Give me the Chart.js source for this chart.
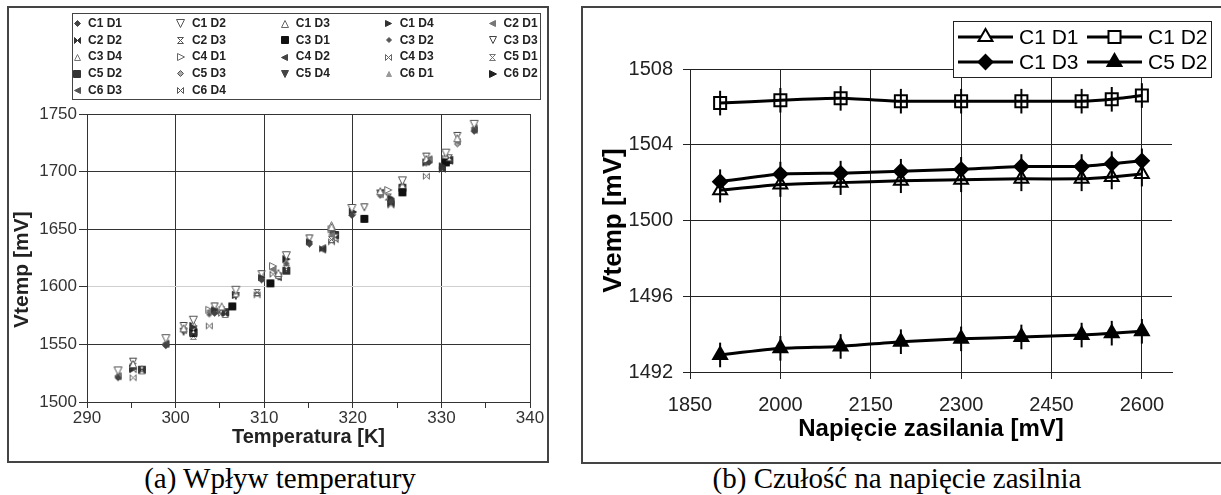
<!DOCTYPE html>
<html>
<head>
<meta charset="utf-8">
<script src="https://cdn.jsdelivr.net/npm/chart.js@4.4.0/dist/chart.umd.min.js"></script>
<style>
  body { margin: 0; background: #fff; width: 1221px; height: 495px; overflow: hidden; position: relative; }
  .panel { position: absolute; box-sizing: border-box; border: 2px solid #444; background: #fff; }
  .panel canvas { display: block; }
  #pa { left: 7px; top: 6px; width: 542px; height: 457px; }
  #pb { left: 581px; top: 6px; width: 642px; height: 458px; }
  .cap { position: absolute; top: 462px; line-height: 32px; font-family: "Liberation Serif", "Times New Roman", serif;
         font-size: 29px; color: #000; text-align: center; white-space: nowrap; }
</style>
</head>
<body>
<div class="panel" id="pa"><canvas id="chartA" width="538" height="453"></canvas></div>
<div class="panel" id="pb"><canvas id="chartB" width="638" height="454"></canvas></div>
<div class="cap" style="left:80px;width:400px">(a) Wpływ temperatury</div>
<div class="cap" style="left:697px;width:400px">(b) Czułość na napięcie zasilnia</div>

<script>
// ---- (a) Vtemp vs temperatura, 22 serie
var seriesA = ['C1 D1', 'C1 D2', 'C1 D3', 'C1 D4', 'C2 D1',
               'C2 D2', 'C2 D3', 'C3 D1', 'C3 D2', 'C3 D3',
               'C3 D4', 'C4 D1', 'C4 D2', 'C4 D3', 'C5 D1',
               'C5 D2', 'C5 D3', 'C5 D4', 'C6 D1', 'C6 D2',
               'C6 D3', 'C6 D4'];

var tempA = [
  [293.5, 298.9, 304.4, 309.7, 315.1, 319.9, 324.3, 328.6, 333.7],
  [293.5, 298.9, 302.0, 306.8, 312.5, 319.9, 325.6, 330.5, 333.7],
  [295.2, 300.9, 305.2, 311.6, 317.6, 323.1, 328.3, 331.8],
  [295.2, 302.0, 304.4, 309.7, 315.1, 320.0, 324.3, 330.1],
  [293.5, 300.9, 303.8, 311.0, 317.6, 323.1, 328.6, 331.8],
  [296.2, 302.0, 305.6, 312.5, 316.6, 324.3, 330.1],
  [295.2, 302.0, 305.2, 309.2, 317.6, 324.0, 330.9],
  [302.0, 306.4, 310.7, 321.3, 325.6, 330.5],
  [298.9, 303.8, 309.2, 312.5, 317.6, 323.1, 328.3, 333.7],
  [295.2, 300.9, 304.4, 309.7, 315.1, 321.3, 328.3, 331.8],
  [296.2, 302.0, 306.8, 311.6, 317.6, 325.6, 330.5],
  [303.8, 311.0, 317.6, 324.0, 330.5],
  [293.5, 298.9, 305.2, 311.6, 316.6, 324.3, 330.1, 333.7],
  [295.2, 303.8, 309.2, 317.6, 324.3, 328.3],
  [296.2, 302.0, 305.6, 312.5, 318.0, 325.6, 330.1],
  [296.2, 302.0, 305.6, 312.5, 318.0, 325.6, 330.9],
  [298.9, 304.4, 309.7, 315.1, 320.0, 324.3, 328.6, 331.8],
  [300.9, 306.8, 311.6, 317.6, 323.1, 330.5],
  [293.5, 300.9, 305.2, 312.5, 317.6, 325.6, 330.5],
  [295.2, 302.0, 306.8, 312.5, 320.0, 328.3],
  [298.9, 304.4, 309.7, 316.6, 323.1, 328.6, 333.7],
  [295.2, 302.0, 305.2, 311.0, 318.0, 324.3, 330.9]
];

var vtempA = [
  [1521, 1549, 1577, 1606, 1637, 1662, 1674, 1708, 1735],
  [1527, 1555, 1571, 1597, 1627, 1668, 1692, 1716, 1741],
  [1533, 1564, 1583, 1612, 1652, 1683, 1711, 1729],
  [1530, 1565, 1580, 1608, 1639, 1665, 1677, 1705],
  [1523, 1562, 1579, 1615, 1645, 1680, 1710, 1726],
  [1528, 1559, 1577, 1614, 1633, 1672, 1702],
  [1531, 1562, 1580, 1595, 1641, 1678, 1712],
  [1560, 1583, 1603, 1659, 1682, 1708],
  [1550, 1576, 1594, 1620, 1649, 1679, 1707, 1737],
  [1535, 1566, 1583, 1611, 1642, 1669, 1713, 1731],
  [1529, 1568, 1594, 1610, 1654, 1688, 1713],
  [1580, 1618, 1650, 1684, 1711],
  [1522, 1551, 1578, 1608, 1632, 1674, 1703, 1736],
  [1521, 1566, 1593, 1639, 1671, 1696],
  [1527, 1557, 1576, 1616, 1643, 1684, 1704],
  [1528, 1561, 1578, 1614, 1645, 1686, 1710],
  [1549, 1578, 1607, 1638, 1663, 1676, 1709, 1724],
  [1561, 1592, 1609, 1647, 1681, 1709],
  [1524, 1563, 1581, 1622, 1652, 1690, 1714],
  [1529, 1566, 1593, 1624, 1665, 1708],
  [1550, 1579, 1607, 1634, 1682, 1711, 1738],
  [1528, 1560, 1577, 1611, 1641, 1673, 1709]
];

var xTicksA = [290, 295, 300, 305, 310, 315, 320, 325, 330, 335, 340];
var yTicksA = [1500, 1550, 1600, 1650, 1700, 1750];

// ---- (b) Vtemp vs napiecie zasilania
var supplyB = [1900, 2000, 2100, 2200, 2300, 2400, 2500, 2550, 2600];
var seriesB = ['C1 D1', 'C1 D2', 'C1 D3', 'C5 D2'];
var vC1D1 = [1501.6, 1501.9, 1502.0, 1502.1, 1502.15, 1502.2, 1502.2, 1502.3, 1502.45];
var vC1D2 = [1506.2, 1506.35, 1506.45, 1506.3, 1506.3, 1506.3, 1506.3, 1506.4, 1506.6];
var vC1D3 = [1502.05, 1502.45, 1502.5, 1502.6, 1502.7, 1502.85, 1502.85, 1503.0, 1503.15];
var vC5D2 = [1492.9, 1493.25, 1493.35, 1493.6, 1493.75, 1493.85, 1493.95, 1494.05, 1494.15];
var errB = 0.65;
var xTicksB = [1850, 2000, 2150, 2300, 2450, 2600];
var yTicksB = [1492, 1496, 1500, 1504, 1508];

var FONT = '"Liberation Sans", Arial, sans-serif';

// markery wykresu (a): [ksztalt, wypelniony, kolor, rozmiar]
var markerSpecs = [
  ['diamond', 1, '#444', 6], ['down', 0, '#555', 8], ['up', 0, '#666', 7], ['right', 1, '#333', 6], ['left', 1, '#777', 6],
  ['bowtie', 1, '#333', 6], ['hourglass', 0, '#555', 6], ['square', 1, '#111', 7], ['diamond', 1, '#555', 5], ['down', 0, '#444', 7],
  ['up', 0, '#777', 6], ['right', 0, '#666', 7], ['left', 1, '#444', 6], ['bowtie', 0, '#666', 6], ['hourglass', 0, '#777', 6],
  ['square', 1, '#333', 7], ['diamond', 0, '#555', 6], ['down', 1, '#444', 7], ['up', 1, '#999', 5], ['right', 1, '#222', 7],
  ['left', 1, '#555', 6], ['bowtie', 0, '#555', 6]
];

function marker(shape, filled, color, s) {
  var c = document.createElement('canvas');
  c.width = c.height = s + 3;
  var g = c.getContext('2d');
  var m = (s + 3) / 2, r = s / 2;
  g.beginPath();
  if (shape == 'diamond') { g.moveTo(m, m - r); g.lineTo(m + r, m); g.lineTo(m, m + r); g.lineTo(m - r, m); }
  else if (shape == 'square') { g.rect(m - r, m - r, 2 * r, 2 * r); }
  else if (shape == 'up') { g.moveTo(m, m - r); g.lineTo(m + r, m + r); g.lineTo(m - r, m + r); }
  else if (shape == 'down') { g.moveTo(m, m + r); g.lineTo(m + r, m - r); g.lineTo(m - r, m - r); }
  else if (shape == 'right') { g.moveTo(m + r, m); g.lineTo(m - r, m - r); g.lineTo(m - r, m + r); }
  else if (shape == 'left') { g.moveTo(m - r, m); g.lineTo(m + r, m - r); g.lineTo(m + r, m + r); }
  else if (shape == 'bowtie') { g.moveTo(m - r, m - r); g.lineTo(m + r, m + r); g.lineTo(m + r, m - r); g.lineTo(m - r, m + r); }
  else if (shape == 'hourglass') { g.moveTo(m - r, m - r); g.lineTo(m + r, m - r); g.lineTo(m - r, m + r); g.lineTo(m + r, m + r); }
  g.closePath();
  g.fillStyle = filled ? color : (shape == 'diamond' ? '#aaa' : '#fff');
  g.fill();
  g.strokeStyle = color;
  g.lineWidth = 1;
  g.stroke();
  return c;
}

var datasetsA = seriesA.map(function (name, i) {
  var sp = markerSpecs[i];
  return {
    label: name,
    data: tempA[i].map(function (t, j) { return { x: t, y: vtempA[i][j] }; }),
    pointStyle: marker(sp[0], sp[1], sp[2], sp[3]),
    pointRadius: 4
  };
});

var legendA = {
  id: 'legendA',
  afterDraw: function (chart) {
    var ctx = chart.ctx;
    ctx.save();
    ctx.fillStyle = '#fff';
    ctx.fillRect(63.5, 5.5, 468, 86);
    ctx.strokeStyle = '#444';
    ctx.lineWidth = 1;
    ctx.strokeRect(63.5, 5.5, 468, 86);
    ctx.font = 'bold 12px ' + FONT;
    ctx.textBaseline = 'middle';
    ctx.fillStyle = '#222';
    chart.data.datasets.forEach(function (ds, i) {
      var x = 68 + (i % 5) * 103.9, y = 15.5 + Math.floor(i / 5) * 16.8;
      var m = ds.pointStyle;
      ctx.drawImage(m, Math.round(x - m.width / 2), Math.round(y - m.height / 2));
      ctx.fillText(ds.label, x + 11, y);
    });
    ctx.restore();
  }
};

function plain(v) { return String(v); }

new Chart(document.getElementById('chartA'), {
  type: 'scatter',
  data: { datasets: datasetsA },
  plugins: [legendA],
  options: {
    responsive: false,
    animation: false,
    layout: { padding: { top: 106, right: 17, bottom: 12, left: 0 } },
    plugins: { legend: { display: false }, tooltip: { enabled: false } },
    scales: {
      x: {
        type: 'linear', min: 290, max: 340,
        afterBuildTicks: function (s) { s.ticks = xTicksA.map(function (v) { return { value: v }; }); },
        afterFit: function (s) { s.height = 47; },
        ticks: {
          autoSkip: false, padding: 0, color: '#333', font: { family: FONT, size: 17 },
          callback: function (v) { return v % 10 === 0 ? String(v) : ''; }
        },
        grid: {
          color: function (c) { return c.tick && c.tick.value % 10 === 0 ? '#333' : 'rgba(0,0,0,0)'; },
          tickColor: '#333', tickLength: 6
        },
        border: { color: '#333' },
        title: { display: true, text: 'Temperatura [K]', color: '#222', padding: 0,
                 font: { family: FONT, size: 20, weight: 'bold' } }
      },
      y: {
        min: 1500, max: 1750,
        afterBuildTicks: function (s) { s.ticks = yTicksA.map(function (v) { return { value: v }; }); },
        afterFit: function (s) { s.width = 78; },
        ticks: { padding: 2, color: '#333', font: { family: FONT, size: 17 }, callback: plain },
        grid: {
          color: function (c) { return c.tick && c.tick.value === 1600 ? '#cfcfcf' : '#333'; },
          tickColor: '#333', tickLength: 8
        },
        border: { color: '#333' },
        title: { display: true, text: 'Vtemp [mV]    ', color: '#222', padding: { top: 1 },
                 font: { family: FONT, size: 21, weight: 'bold' } }
      }
    }
  }
});

// ---- wykres (b)
function shapePath(ctx, kind, x, y, r) {
  ctx.beginPath();
  if (kind == 'triangle') {
    ctx.moveTo(x, y - r); ctx.lineTo(x + r * 0.87, y + r * 0.5); ctx.lineTo(x - r * 0.87, y + r * 0.5);
  } else if (kind == 'rect') {
    var h = r * 0.707; ctx.rect(x - h, y - h, 2 * h, 2 * h);
  } else {
    ctx.moveTo(x, y - r); ctx.lineTo(x + r, y); ctx.lineTo(x, y + r); ctx.lineTo(x - r, y);
  }
  ctx.closePath();
}

var whiskersB = {
  id: 'whiskersB',
  afterDatasetsDraw: function (chart) {
    var ctx = chart.ctx, ys = chart.scales.y;
    ctx.save();
    ctx.strokeStyle = '#000';
    ctx.lineWidth = 2;
    chart.data.datasets.forEach(function (ds, i) {
      chart.getDatasetMeta(i).data.forEach(function (pt, j) {
        var v = ds.data[j];
        ctx.beginPath();
        ctx.moveTo(pt.x, ys.getPixelForValue(v - errB));
        ctx.lineTo(pt.x, ys.getPixelForValue(v + errB));
        ctx.stroke();
      });
    });
    ctx.restore();
  }
};

var legendB = {
  id: 'legendB',
  afterDraw: function (chart) {
    var ctx = chart.ctx;
    ctx.save();
    ctx.fillStyle = '#fff';
    ctx.fillRect(370.5, 13.5, 258, 56);
    ctx.strokeStyle = '#222';
    ctx.lineWidth = 1;
    ctx.strokeRect(370.5, 13.5, 258, 56);
    ctx.font = '21px ' + FONT;
    ctx.textBaseline = 'middle';
    chart.data.datasets.forEach(function (ds, i) {
      var x0 = 375 + (i % 2) * 129, y = 29 + Math.floor(i / 2) * 25;
      ctx.strokeStyle = '#000';
      ctx.lineWidth = 3;
      ctx.beginPath(); ctx.moveTo(x0, y); ctx.lineTo(x0 + 55, y); ctx.stroke();
      shapePath(ctx, ds.pointStyle, x0 + 27.5, y, ds.pointRadius);
      ctx.fillStyle = ds.pointBackgroundColor === '#000' ? '#000' : '#fff';
      ctx.fill();
      ctx.lineWidth = 2;
      ctx.stroke();
      ctx.fillStyle = '#000';
      ctx.fillText(ds.label, x0 + 61, y + 1);
    });
    ctx.restore();
  }
};

function lineSet(label, values, style, filled, radius) {
  return {
    label: label, data: values, borderColor: '#000', borderWidth: 3, tension: 0.15,
    pointStyle: style, pointRadius: radius, pointBorderWidth: 2, pointBorderColor: '#000',
    pointBackgroundColor: filled ? '#000' : 'rgba(255,255,255,0)'
  };
}

new Chart(document.getElementById('chartB'), {
  type: 'line',
  data: {
    labels: supplyB,
    datasets: [
      lineSet(seriesB[0], vC1D1, 'triangle', false, 8),
      lineSet(seriesB[1], vC1D2, 'rect', false, 8.5),
      lineSet(seriesB[2], vC1D3, 'rectRot', true, 7),
      lineSet(seriesB[3], vC5D2, 'triangle', true, 8)
    ]
  },
  plugins: [whiskersB, legendB],
  options: {
    responsive: false,
    animation: false,
    layout: { padding: { top: 61, right: 49, bottom: 18, left: 0 } },
    plugins: { legend: { display: false }, tooltip: { enabled: false } },
    scales: {
      x: {
        type: 'linear', min: 1850, max: 2650,
        afterBuildTicks: function (s) { s.ticks = xTicksB.map(function (v) { return { value: v }; }); },
        afterFit: function (s) { s.height = 72; },
        ticks: { autoSkip: false, padding: 14, color: '#222', font: { family: FONT, size: 20 }, callback: plain },
        grid: { color: '#222', tickColor: '#222', tickLength: 7 },
        border: { color: '#222' },
        title: { display: true, text: 'Napięcie zasilania [mV]', color: '#000', padding: 0,
                 font: { family: FONT, size: 24, weight: 'bold' } }
      },
      y: {
        min: 1492, max: 1508,
        afterBuildTicks: function (s) { s.ticks = yTicksB.map(function (v) { return { value: v }; }); },
        afterFit: function (s) { s.width = 107; },
        ticks: { padding: 10, color: '#222', font: { family: FONT, size: 20 }, callback: plain },
        grid: { color: '#222', tickColor: '#222', tickLength: 7 },
        border: { color: '#222' },
        title: { display: true, text: 'Vtemp [mV]', color: '#000', padding: { top: 15 },
                 font: { family: FONT, size: 26, weight: 'bold' } }
      }
    }
  }
});
</script>
</body>
</html>
